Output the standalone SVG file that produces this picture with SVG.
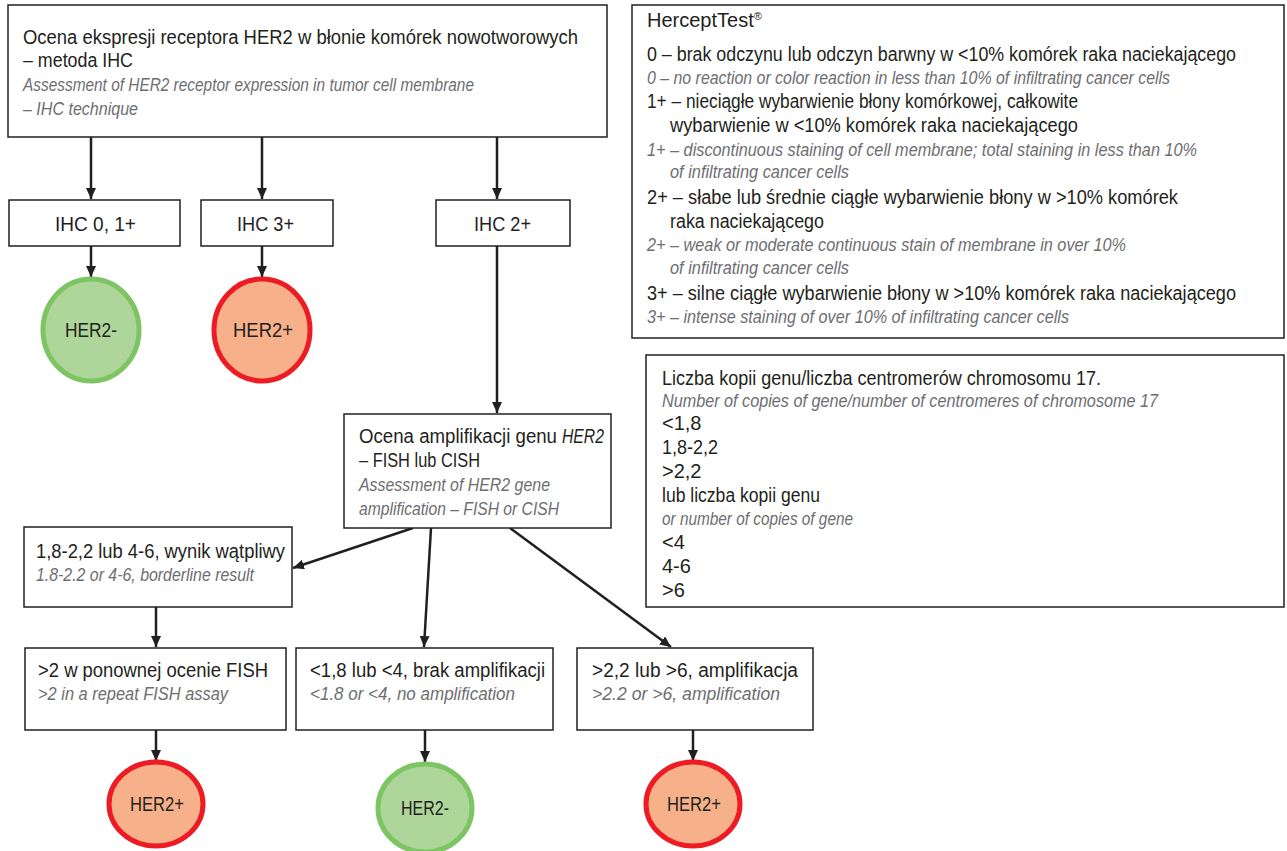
<svg xmlns="http://www.w3.org/2000/svg" width="1287" height="851" viewBox="0 0 1287 851">
<defs>
<marker id="ah" markerUnits="userSpaceOnUse" markerWidth="12" markerHeight="10" refX="11" refY="5" orient="auto">
<path d="M0,0 L11,5 L0,10 z" fill="#231f20"/>
</marker>
<style>
.box{fill:#fff;stroke:#231f20;stroke-width:1.5}
.t{font-family:"Liberation Sans",Arial,sans-serif;font-size:20px;fill:#231f20}
.i{font-family:"Liberation Sans",Arial,sans-serif;font-style:italic;font-size:18.5px;fill:#6d6e71}
.c{text-anchor:middle}
.con{stroke:#231f20;stroke-width:2.5;fill:none;marker-end:url(#ah)}
.red{fill:#f6b18b;stroke:#ed1c24;stroke-width:5}
.grn{fill:#aed69b;stroke:#7dc462;stroke-width:5}
</style>
</defs>
<rect width="1287" height="851" fill="#fff"/>

<g id="connectors">
<line class="con" x1="91" y1="137" x2="91" y2="199"/>
<line class="con" x1="262" y1="137" x2="262" y2="199"/>
<line class="con" x1="497" y1="137" x2="497" y2="199"/>
<line class="con" x1="91" y1="246" x2="91" y2="277"/>
<line class="con" x1="262" y1="246" x2="262" y2="277"/>
<line class="con" x1="497" y1="246" x2="497" y2="413"/>
<line class="con" x1="413" y1="528" x2="293" y2="568"/>
<line class="con" x1="431" y1="528" x2="424" y2="647"/>
<line class="con" x1="510" y1="528" x2="671" y2="647"/>
<line class="con" x1="156" y1="606" x2="156" y2="647"/>
<line class="con" x1="156" y1="730" x2="156" y2="761"/>
<line class="con" x1="425" y1="730" x2="425" y2="762"/>
<line class="con" x1="693" y1="730" x2="693" y2="761"/>
</g>

<g id="ihc-assessment">
<rect class="box" x="8" y="5" width="599" height="132"/>
<text class="t" x="23" y="44" textLength="555" lengthAdjust="spacingAndGlyphs">Ocena ekspresji receptora HER2 w błonie komórek nowotworowych</text>
<text class="t" x="23" y="67" textLength="110" lengthAdjust="spacingAndGlyphs">– metoda IHC</text>
<text class="i" x="23" y="91" textLength="451" lengthAdjust="spacingAndGlyphs">Assessment of HER2 receptor expression in tumor cell membrane</text>
<text class="i" x="23" y="115" textLength="115" lengthAdjust="spacingAndGlyphs">– IHC technique</text>
</g>

<g id="ihc01">
<rect class="box" x="9" y="200" width="171" height="46"/>
<text class="t" x="55" y="231" textLength="81" lengthAdjust="spacingAndGlyphs">IHC 0, 1+</text>
</g>
<g id="ihc3">
<rect class="box" x="201" y="200" width="132" height="46"/>
<text class="t" x="237" y="231" textLength="57" lengthAdjust="spacingAndGlyphs">IHC 3+</text>
</g>
<g id="ihc2">
<rect class="box" x="436" y="200" width="134" height="46"/>
<text class="t" x="474" y="231" textLength="57" lengthAdjust="spacingAndGlyphs">IHC 2+</text>
</g>

<g id="her2neg-1">
<ellipse class="grn" cx="91" cy="330" rx="48" ry="51"/>
<text class="t" x="65" y="337" textLength="52" lengthAdjust="spacingAndGlyphs">HER2-</text>
</g>
<g id="her2pos-1">
<ellipse class="red" cx="262" cy="330" rx="48" ry="51"/>
<text class="t" x="233" y="337" textLength="60" lengthAdjust="spacingAndGlyphs">HER2+</text>
</g>

<g id="herceptest">
<rect class="box" x="632" y="5" width="652" height="333" stroke="#444"/>
<text class="t" x="647" y="27">HerceptTest<tspan font-size="11" dy="-7">®</tspan></text>
<text class="t" x="647" y="61" font-size="19" textLength="589" lengthAdjust="spacingAndGlyphs">0 – brak odczynu lub odczyn barwny w &lt;10% komórek raka naciekającego</text>
<text class="i" x="647" y="84" textLength="523" lengthAdjust="spacingAndGlyphs">0 – no reaction or color reaction in less than 10% of infiltrating cancer cells</text>
<text class="t" x="647" y="108" textLength="431" lengthAdjust="spacingAndGlyphs">1+ – nieciągłe wybarwienie błony komórkowej, całkowite</text>
<text class="t" x="670" y="132" textLength="408" lengthAdjust="spacingAndGlyphs">wybarwienie w &lt;10% komórek raka naciekającego</text>
<text class="i" x="647" y="156" textLength="550" lengthAdjust="spacingAndGlyphs">1+ – discontinuous staining of cell membrane; total staining in less than 10%</text>
<text class="i" x="670" y="178" textLength="179" lengthAdjust="spacingAndGlyphs">of infiltrating cancer cells</text>
<text class="t" x="647" y="204" textLength="531" lengthAdjust="spacingAndGlyphs">2+ – słabe lub średnie ciągłe wybarwienie błony w &gt;10% komórek</text>
<text class="t" x="670" y="228" textLength="154" lengthAdjust="spacingAndGlyphs">raka naciekającego</text>
<text class="i" x="647" y="251" textLength="479" lengthAdjust="spacingAndGlyphs">2+ – weak or moderate continuous stain of membrane in over 10%</text>
<text class="i" x="670" y="274" textLength="179" lengthAdjust="spacingAndGlyphs">of infiltrating cancer cells</text>
<text class="t" x="647" y="300" font-size="19" textLength="589" lengthAdjust="spacingAndGlyphs">3+ – silne ciągłe wybarwienie błony w &gt;10% komórek raka naciekającego</text>
<text class="i" x="647" y="323" textLength="422" lengthAdjust="spacingAndGlyphs">3+ – intense staining of over 10% of infiltrating cancer cells</text>
</g>

<g id="copies-legend">
<rect class="box" x="646" y="355" width="638" height="252" stroke="#444"/>
<text class="t" x="662" y="385" textLength="439" lengthAdjust="spacingAndGlyphs">Liczba kopii genu/liczba centromerów chromosomu 17.</text>
<text class="i" x="662" y="407" textLength="496" lengthAdjust="spacingAndGlyphs">Number of copies of gene/number of centromeres of chromosome 17</text>
<text class="t" x="662" y="430">&lt;1,8</text>
<text class="t" x="662" y="454" textLength="56" lengthAdjust="spacingAndGlyphs">1,8-2,2</text>
<text class="t" x="662" y="478">&gt;2,2</text>
<text class="t" x="662" y="502" textLength="158" lengthAdjust="spacingAndGlyphs">lub liczba kopii genu</text>
<text class="i" x="662" y="525" textLength="191" lengthAdjust="spacingAndGlyphs">or number of copies of gene</text>
<text class="t" x="662" y="549">&lt;4</text>
<text class="t" x="662" y="573">4-6</text>
<text class="t" x="662" y="597">&gt;6</text>
</g>

<g id="fish-assessment">
<rect class="box" x="344" y="414" width="267" height="114"/>
<text class="t" x="359" y="443" textLength="198" lengthAdjust="spacingAndGlyphs">Ocena amplifikacji genu</text>
<text class="t" x="562" y="443" font-style="italic" textLength="42" lengthAdjust="spacingAndGlyphs">HER2</text>
<text class="t" x="359" y="467" textLength="121" lengthAdjust="spacingAndGlyphs">– FISH lub CISH</text>
<text class="i" x="359" y="491" textLength="191" lengthAdjust="spacingAndGlyphs">Assessment of HER2 gene</text>
<text class="i" x="359" y="515" textLength="200" lengthAdjust="spacingAndGlyphs">amplification – FISH or CISH</text>
</g>

<g id="borderline">
<rect class="box" x="24" y="527" width="268" height="80"/>
<text class="t" x="36" y="558" textLength="249" lengthAdjust="spacingAndGlyphs">1,8-2,2 lub 4-6, wynik wątpliwy</text>
<text class="i" x="36" y="581" textLength="218" lengthAdjust="spacingAndGlyphs">1.8-2.2 or 4-6, borderline result</text>
</g>

<g id="repeat-fish">
<rect class="box" x="25" y="648" width="261" height="82"/>
<text class="t" x="38" y="677" textLength="230" lengthAdjust="spacingAndGlyphs">&gt;2 w ponownej ocenie FISH</text>
<text class="i" x="38" y="700" textLength="190" lengthAdjust="spacingAndGlyphs">&gt;2 in a repeat FISH assay</text>
</g>

<g id="no-amplification">
<rect class="box" x="296" y="648" width="257" height="82"/>
<text class="t" x="310" y="677" textLength="235" lengthAdjust="spacingAndGlyphs">&lt;1,8 lub &lt;4, brak amplifikacji</text>
<text class="i" x="310" y="700" textLength="205" lengthAdjust="spacingAndGlyphs">&lt;1.8 or &lt;4, no amplification</text>
</g>

<g id="amplification">
<rect class="box" x="577" y="648" width="236" height="82"/>
<text class="t" x="592" y="677" textLength="206" lengthAdjust="spacingAndGlyphs">&gt;2,2 lub &gt;6, amplifikacja</text>
<text class="i" x="592" y="700" textLength="188" lengthAdjust="spacingAndGlyphs">&gt;2.2 or &gt;6, amplification</text>
</g>

<g id="her2pos-2">
<ellipse class="red" cx="156" cy="804" rx="47" ry="42"/>
<text class="t" x="130" y="811" textLength="54" lengthAdjust="spacingAndGlyphs">HER2+</text>
</g>
<g id="her2neg-2">
<ellipse class="grn" cx="425" cy="808" rx="47" ry="44"/>
<text class="t" x="401" y="815" textLength="48" lengthAdjust="spacingAndGlyphs">HER2-</text>
</g>
<g id="her2pos-3">
<ellipse class="red" cx="693" cy="804" rx="47" ry="42"/>
<text class="t" x="667" y="811" textLength="54" lengthAdjust="spacingAndGlyphs">HER2+</text>
</g>
</svg>
